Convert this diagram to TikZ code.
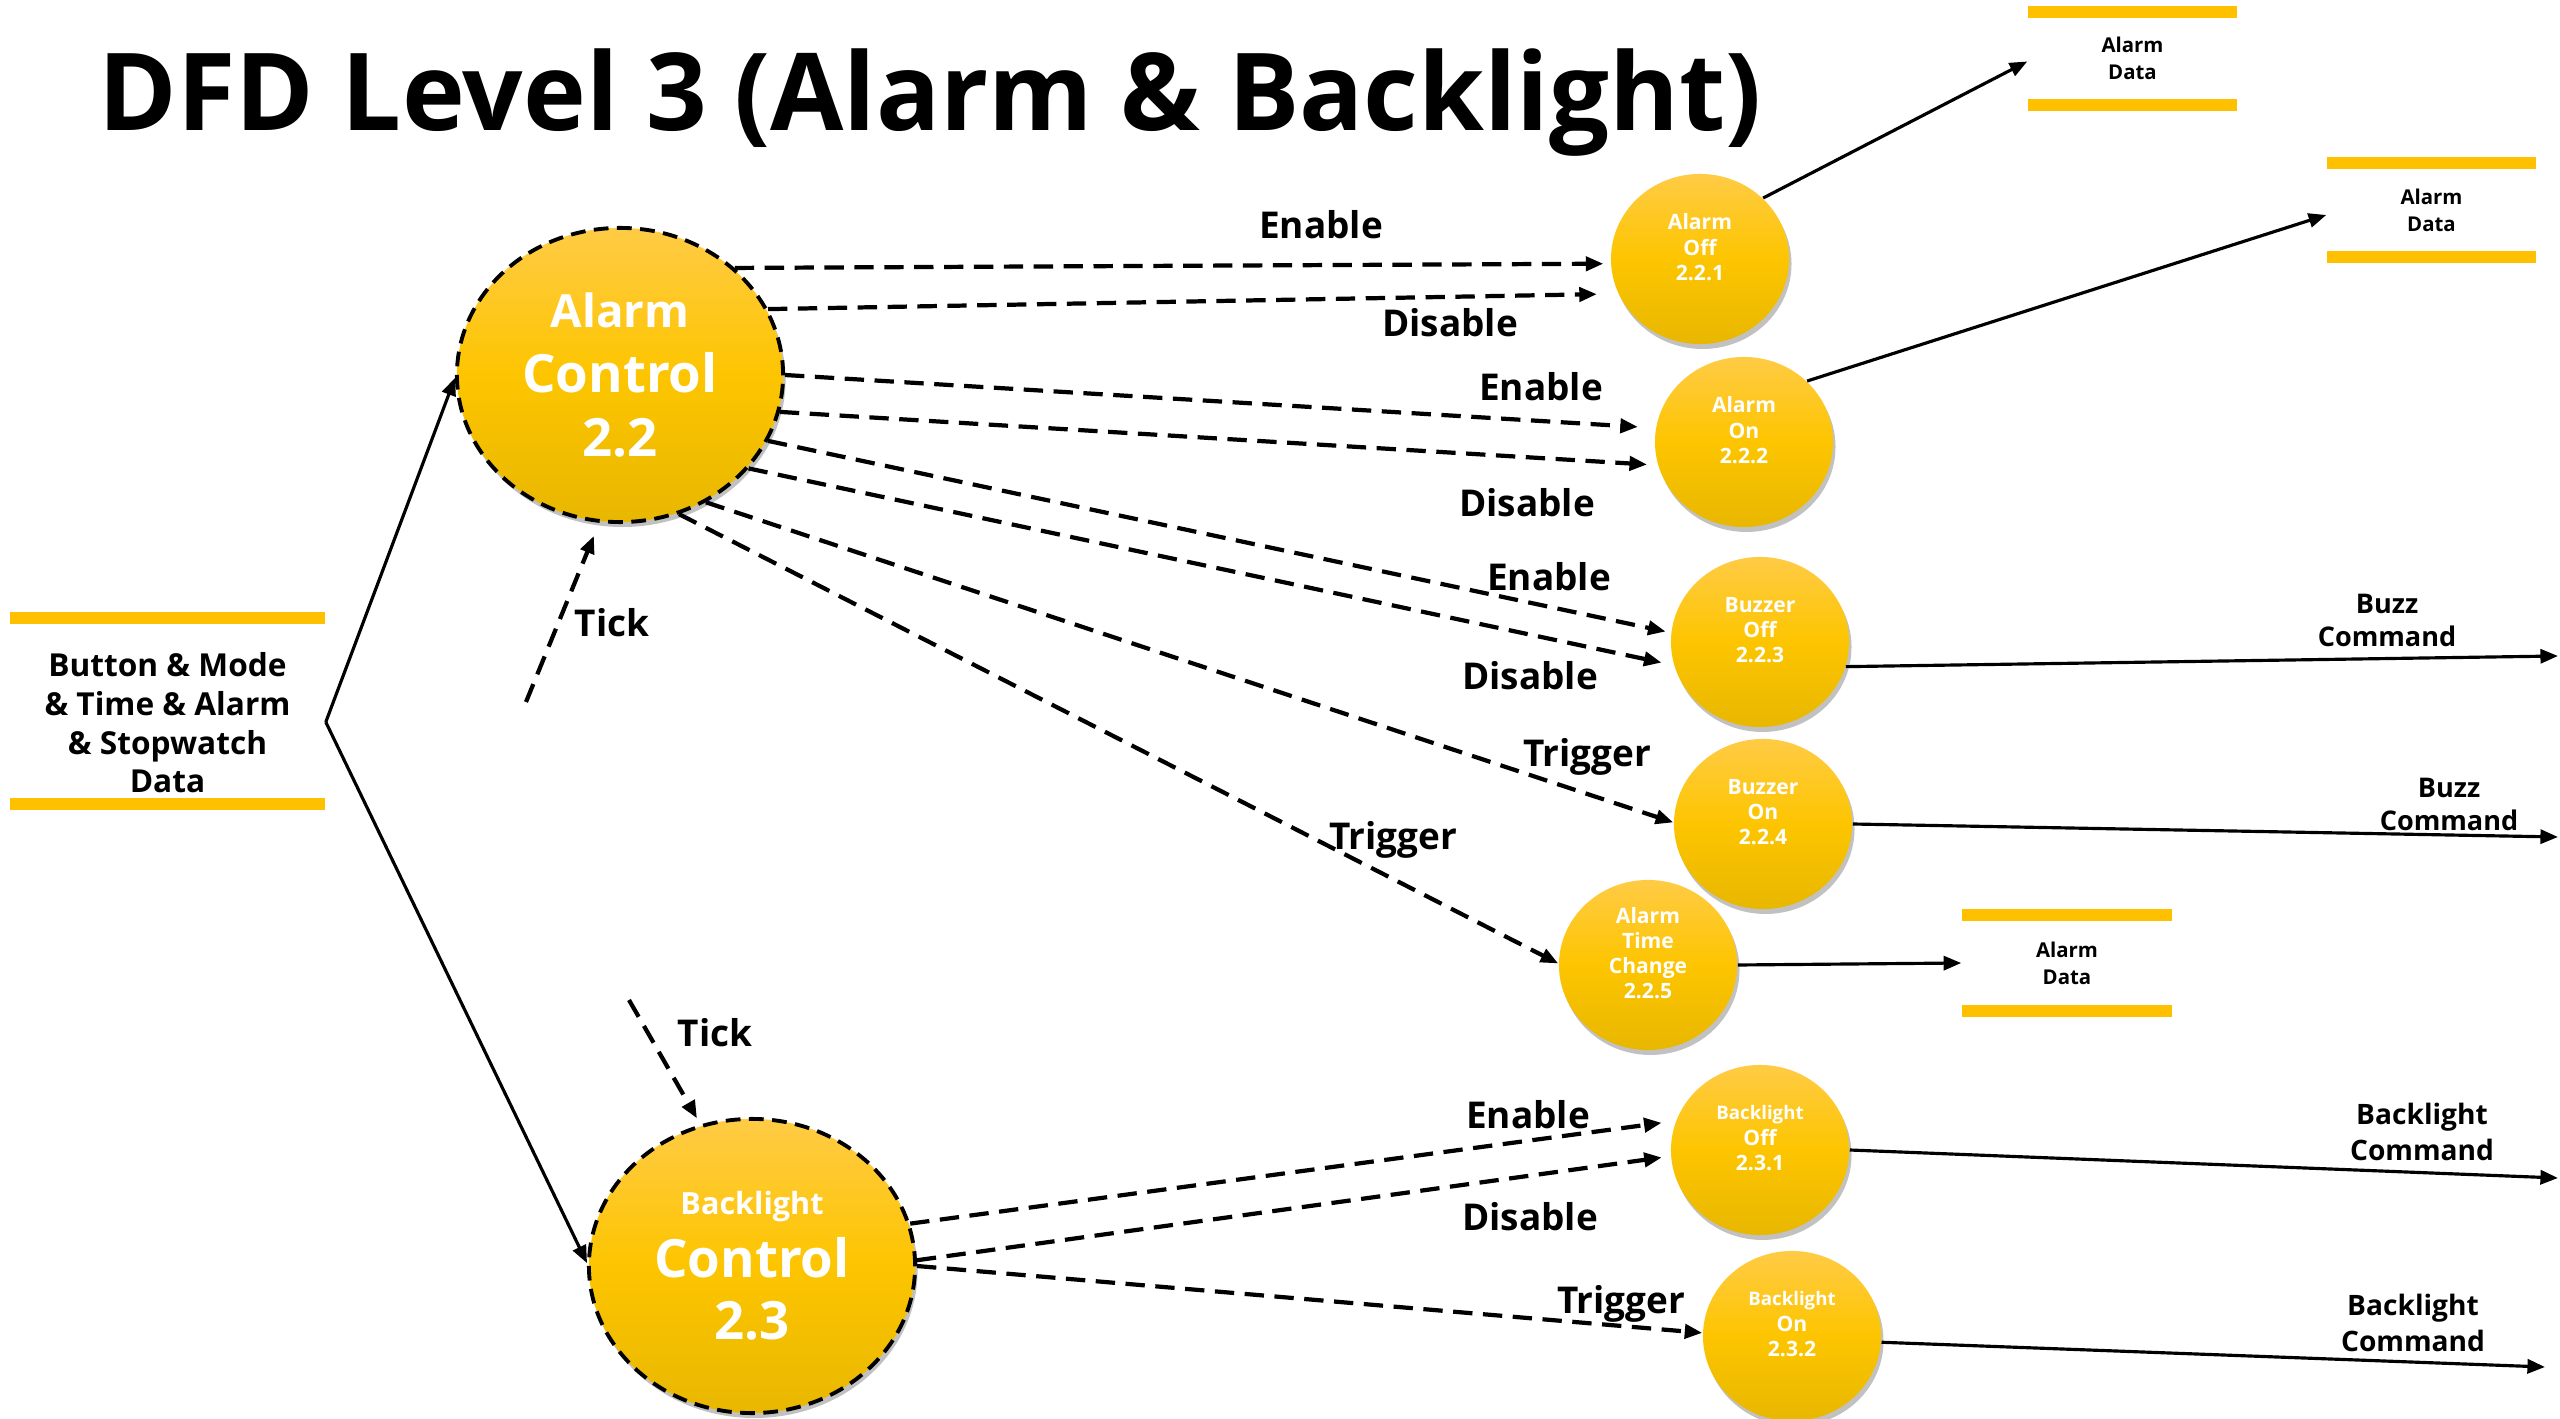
\documentclass[tikz,border=0pt]{standalone}
\usepackage{fontspec}
\setmainfont{Open Sans}
\newfontfamily\titlefont{Open Sans}[FakeStretch=0.988]
\usetikzlibrary{arrows.meta,shapes.geometric,shadows,calc}
\definecolor{bTop}{HTML}{FFCB45}
\definecolor{bMid}{HTML}{FDC500}
\definecolor{bBot}{HTML}{E8B700}
\definecolor{barc}{HTML}{FFC000}
\newcommand\liftup{\rule[-2.4mm]{0pt}{2.4mm}}
\begin{document}
\begin{tikzpicture}[x=0.01cm,y=-0.01cm,
  bub/.style={ellipse, inner sep=0pt, align=center, text=white,
    font=\bfseries\fontsize{6}{7.2}\selectfont,
    minimum width=17.8mm, minimum height=17mm,
    top color=bTop, bottom color=bBot, middle color=bMid,
    drop shadow={shadow xshift=0.7pt, shadow yshift=-1.4pt, opacity=0.35, fill=black!70}},
  big/.style={bub, font=\bfseries\fontsize{15}{18.3}\selectfont,
    minimum width=32.6mm, minimum height=29.4mm,
    draw=black, line width=1.1pt, dash pattern=on 4.2pt off 2.4pt},
  store/.style={rectangle, inner sep=0pt, align=center,
    font=\bfseries\fontsize{5.8}{7.6}\selectfont,
    path picture={
      \fill[barc] (path picture bounding box.north west) rectangle ([yshift=-1.2mm]path picture bounding box.north east);
      \fill[barc] (path picture bounding box.south west) rectangle ([yshift=1.2mm]path picture bounding box.south east);}},
  flow/.style={-{Triangle[length=5pt,width=4pt]}, line width=0.9pt},
  dflow/.style={flow, line width=1.2pt, dash pattern=on 5.5pt off 3pt},
  lab/.style={font=\bfseries\fontsize{10.5}{12}\selectfont, inner sep=0pt, text height=7.6pt, text depth=0pt},
  cmd/.style={font=\bfseries\fontsize{7.7}{9.4}\selectfont, inner sep=0pt, align=center},
  bcmd/.style={font=\bfseries\fontsize{8}{10}\selectfont, inner sep=0pt, align=center}
]
\useasboundingbox (0,0) rectangle (2560,1419);

\node[anchor=base west, inner sep=0pt, font=\titlefont\bfseries\fontsize{30.6}{36}\selectfont] (title) at (98,131) {DFD Level 3 (Alarm \& Backlight)};

% stores
\node[store, minimum width=31.5mm, minimum height=19.8mm, font=\bfseries\fontsize{9}{11}\selectfont] (ls) at (167.5,711)
  {\rule{0pt}{4.8mm}Button \& Mode\\\& Time \& Alarm\\\& Stopwatch\\Data};
\node[store, minimum width=20.9mm, minimum height=10.5mm] (s1) at (2132.5,58.5) {Alarm\\Data};
\node[store, minimum width=20.9mm, minimum height=10.6mm] (s2) at (2431.5,210) {Alarm\\Data};
\node[store, minimum width=21mm, minimum height=10.8mm] (s3) at (2067,963) {Alarm\\Data};

% control processes
\node[big] (ac) at (620,375) {{\fontsize{13}{18.3}\selectfont Alarm}\\Control\\2.2};
\node[big, font=\bfseries\fontsize{15}{17.8}\selectfont] (bc) at (752,1266) {{\fontsize{8.7}{17.8}\selectfont Backlight}\\Control\\2.3};

% sub processes
\node[bub] (ao) at (1700,259) {Alarm\\Off\\2.2.1\liftup};
\node[bub] (ao2) at (1744,442) {Alarm\\On\\2.2.2\liftup};
\node[bub] (bo) at (1760,642) {Buzzer\\Off\\2.2.3\liftup};
\node[bub] (bn) at (1763,824) {Buzzer\\On\\2.2.4\liftup};
\node[bub] (atc) at (1648,965) {Alarm\\Time\\Change\\2.2.5\liftup};
\node[bub] (blo) at (1760,1150) {{\fontsize{5.3}{7.2}\selectfont Backlight}\\Off\\2.3.1\liftup};
\node[bub] (bln) at (1792,1336) {{\fontsize{5.3}{7.2}\selectfont Backlight}\\On\\2.3.2\liftup};

% free ends
\coordinate (o1) at (2558,656);
\coordinate (o2) at (2558,837);
\coordinate (o3) at (2558,1178);
\coordinate (o4) at (2545,1367);
\coordinate (t1) at (526,702);
\coordinate (t2) at (629,1000);

% solid flows
\draw[flow] (ls.-4) -- (ac.181);
\draw[flow] (ls.-4) -- (bc.179);
\draw[flow] (ao.44) -- ([yshift=-0.3mm]s1.west);
\draw[flow] (ao2.44) -- ([yshift=-0.5mm]s2.west);
\draw[flow] (bo.-16) -- (o1);
\draw[flow] (bn.east) -- (o2);
\draw[flow] (atc.east) -- (s3.west);
\draw[flow] (blo.east) -- (o3);
\draw[flow] (bln.-4) -- (o4);

% dashed flows
\draw[dflow, shorten >=2pt] (ac.43) -- (ao.183);
\draw[dflow, shorten >=6pt] (ac.24) -- (ao.203);
\draw[dflow, shorten >=5pt] (ac.0) -- (ao2.171);
\draw[dflow, shorten >=3pt] (ac.-13) -- (ao2.195);
\draw[dflow, shorten >=1.5pt] (ac.-24) -- (bo.174);
\draw[dflow, shorten >=3.5pt] (ac.-36) -- (bo.195);
\draw[dflow] (ac.-56) -- (bn.179);
\draw[dflow] (ac.-67) -- (atc.179);
\draw[dflow, shorten >=4pt] (bc.15) -- (blo.161);
\draw[dflow, shorten >=2.5pt] (bc.2) -- (blo.184);
\draw[dflow] (bc.0) -- (bln.178);
\draw[dflow, shorten >=4pt] (t1) -- (ac.262);
\draw[dflow, shorten >=2pt] (t2) -- (bc.110);

% flow labels
\node[lab] (l1) at (1321,225) {Enable};
\node[lab] (l2) at (1450,323) {Disable};
\node[lab] (l3) at (1541,387) {Enable};
\node[lab] (l4) at (1527,503) {Disable};
\node[lab] (l5) at (1549,577) {Enable};
\node[lab] (l6) at (1530,676) {Disable};
\node[lab] (l7) at (1587,753) {Trigger};
\node[lab] (l8) at (1393,836) {Trigger};
\node[lab] (l9) at (612,623) {Tick};
\node[lab] (l10) at (715,1033) {Tick};
\node[lab] (l11) at (1528,1115) {Enable};
\node[lab] (l12) at (1530,1217) {Disable};
\node[lab] (l13) at (1621,1300) {Trigger};

% command labels
\node[cmd] (c1) at (2387,620) {Buzz\\Command};
\node[cmd] (c2) at (2449,804) {Buzz\\Command};
\node[bcmd] (c3) at (2422,1132) {Backlight\\Command};
\node[bcmd] (c4) at (2413,1323) {Backlight\\Command};
\end{tikzpicture}
\end{document}
